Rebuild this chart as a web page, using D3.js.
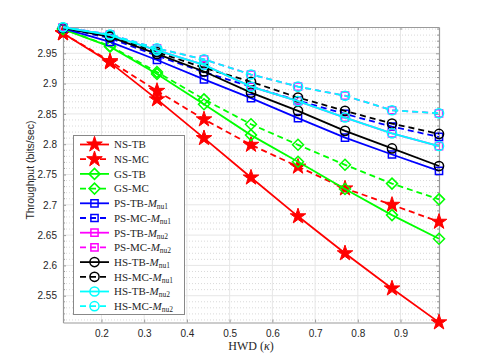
<!DOCTYPE html>
<html>
  <head>
    <script src="https://d3js.org/d3.v7.min.js"></script>
    <style>
      body { margin: 0; background: #fff; }
      text { fill: #262626; }
    </style>
  </head>
  <body>
    <svg id="chart"></svg>
    <script>
      // data
      const hwd = [0.11, 0.22, 0.33, 0.44, 0.55, 0.66, 0.77, 0.88, 0.99];
      const nsTB = [2.983, 2.935, 2.874, 2.810, 2.745, 2.681, 2.620, 2.562, 2.506];
      const nsMC = [2.983, 2.937, 2.888, 2.841, 2.799, 2.763, 2.727, 2.700, 2.672];
      const gsTB = [2.990, 2.961, 2.916, 2.866, 2.815, 2.771, 2.726, 2.683, 2.644];
      const gsMC = [2.990, 2.962, 2.919, 2.874, 2.833, 2.799, 2.766, 2.735, 2.709];
      const psTB1 = [2.991, 2.969, 2.939, 2.907, 2.876, 2.843, 2.811, 2.783, 2.756];
      const psMC1 = [2.992, 2.975, 2.946, 2.919, 2.895, 2.872, 2.850, 2.829, 2.812];
      const psTB2 = [2.993, 2.980, 2.955, 2.931, 2.895, 2.871, 2.844, 2.818, 2.797];
      const psMC2 = [2.993, 2.981, 2.958, 2.940, 2.915, 2.895, 2.880, 2.856, 2.851];
      const hsTB1 = [2.992, 2.977, 2.949, 2.920, 2.885, 2.855, 2.822, 2.793, 2.764];
      const hsMC1 = [2.992, 2.979, 2.952, 2.926, 2.903, 2.877, 2.855, 2.834, 2.817];
      const hsTB2 = [2.993, 2.980, 2.955, 2.931, 2.895, 2.871, 2.844, 2.818, 2.797];
      const hsMC2 = [2.993, 2.981, 2.958, 2.940, 2.915, 2.895, 2.880, 2.856, 2.851];

      const xTicks = [0.2, 0.3, 0.4, 0.5, 0.6, 0.7, 0.8, 0.9];
      const yTicks = [2.55, 2.6, 2.65, 2.7, 2.75, 2.8, 2.85, 2.9, 2.95];

      // name, sub (null = none), values, colour, dashed, marker
      const series = [
        ["NS-TB", null, nsTB, "#ff0000", false, "star"],
        ["NS-MC", null, nsMC, "#ff0000", true, "star"],
        ["GS-TB", null, gsTB, "#00ff00", false, "diamond"],
        ["GS-MC", null, gsMC, "#00ff00", true, "diamond"],
        ["PS-TB-", "nu1", psTB1, "#0000ff", false, "square"],
        ["PS-MC-", "nu1", psMC1, "#0000ff", true, "square"],
        ["PS-TB-", "nu2", psTB2, "#ff00ff", false, "square"],
        ["PS-MC-", "nu2", psMC2, "#ff00ff", true, "square"],
        ["HS-TB-", "nu1", hsTB1, "#000000", false, "circle"],
        ["HS-MC-", "nu1", hsMC1, "#000000", true, "circle"],
        ["HS-TB-", "nu2", hsTB2, "#00ffff", false, "circle"],
        ["HS-MC-", "nu2", hsMC2, "#00ffff", true, "circle"]
      ];

      const width = 485, height = 363;
      const svg = d3.select("#chart").attr("width", width).attr("height", height);

      const x = d3.scaleLinear([0.11, 0.99], [63, 439]);
      const y = d3.scaleLinear([2.5058, 2.9934], [322.5, 27]);

      const minorY = d3.range(2.51, 2.995, 0.01).filter(v => !yTicks.some(t => Math.abs(t - v) < 1e-6));

      // grid
      svg.append("g")
        .selectAll("line")
        .data(minorY)
        .join("line")
        .attr("x1", 63).attr("x2", 439)
        .attr("y1", d => y(d)).attr("y2", d => y(d))
        .attr("stroke", "#d9d9d9").attr("stroke-dasharray", "1,2");
      svg.append("g")
        .selectAll("line")
        .data(yTicks)
        .join("line")
        .attr("x1", 63).attr("x2", 439)
        .attr("y1", d => y(d)).attr("y2", d => y(d))
        .attr("stroke", "#e6e6e6");
      svg.append("g")
        .selectAll("line")
        .data(xTicks)
        .join("line")
        .attr("x1", d => x(d)).attr("x2", d => x(d))
        .attr("y1", 27).attr("y2", 322.5)
        .attr("stroke", "#e6e6e6");

      // axes
      const axisStyle = g => {
        g.select(".domain").attr("stroke", "#9a9a9a").attr("stroke-width", 1.2);
        g.selectAll(".tick line").attr("stroke", "#9a9a9a");
        g.selectAll("text").style("font", "10px 'Liberation Sans', sans-serif").attr("fill", "#262626");
      };
      svg.append("g")
        .attr("transform", "translate(0,322.5)")
        .call(d3.axisBottom(x).tickValues(xTicks).tickSize(-3).tickPadding(7).tickSizeOuter(0).tickFormat(d3.format(".1f")))
        .call(axisStyle);
      svg.append("g")
        .attr("transform", "translate(0,27)")
        .call(d3.axisTop(x).tickValues(xTicks).tickSize(-3).tickSizeOuter(0).tickFormat(""))
        .call(axisStyle);
      svg.append("g")
        .attr("transform", "translate(63,0)")
        .call(d3.axisLeft(y).tickValues(yTicks).tickSize(-3).tickPadding(6).tickSizeOuter(0).tickFormat(d => d3.format("")(+d.toFixed(2))))
        .call(axisStyle);
      svg.append("g")
        .attr("transform", "translate(439,0)")
        .call(d3.axisRight(y).tickValues(yTicks).tickSize(-3).tickSizeOuter(0).tickFormat(""))
        .call(axisStyle);
      // minor ticks on y
      [63, 439].forEach(px => {
        const dir = px === 63 ? 1 : -1;
        svg.append("g")
          .selectAll("line")
          .data(minorY)
          .join("line")
          .attr("x1", px).attr("x2", px + dir * 2)
          .attr("y1", d => y(d)).attr("y2", d => y(d))
          .attr("stroke", "#9a9a9a");
      });

      // axis labels
      svg.append("text")
        .attr("transform", "translate(34,170) rotate(-90)")
        .attr("text-anchor", "middle")
        .style("font", "10.5px 'Liberation Sans', sans-serif")
        .text("Throughput (bits/sec)");
      const xl = svg.append("text")
        .attr("x", 251).attr("y", 350)
        .attr("text-anchor", "middle")
        .style("font", "12px 'Liberation Serif', serif");
      xl.append("tspan").text("HWD (");
      xl.append("tspan").style("font-style", "italic").text("κ");
      xl.append("tspan").text(")");

      // markers
      const markerPath = {
        star: d3.symbol(d3.symbolStar, 75)(),
        square: d3.symbol(d3.symbolSquare, 52)(),
        circle: d3.symbol(d3.symbolCircle, 66)(),
        diamond: "M0,-5.5L5.5,0L0,5.5L-5.5,0Z"
      };

      function drawMarker(g, kind, colour, px, py) {
        g.append("path")
          .attr("d", markerPath[kind])
          .attr("transform", `translate(${px},${py})`)
          .attr("fill", kind === "star" ? colour : "none")
          .attr("stroke", colour)
          .attr("stroke-width", kind === "star" ? 1 : 1.5);
      }

      const line = d3.line().x((d, i) => x(hwd[i])).y(d => y(d));

      series.forEach(([name, sub, vals, colour, dashed, marker]) => {
        const g = svg.append("g");
        g.append("path")
          .attr("d", line(vals))
          .attr("fill", "none")
          .attr("stroke", colour)
          .attr("stroke-width", 1.8)
          .attr("stroke-dasharray", dashed ? "6,4" : null);
        vals.forEach((v, i) => drawMarker(g, marker, colour, x(hwd[i]), y(v)));
      });

      // legend
      const legend = svg.append("g");
      legend.append("rect")
        .attr("x", 73.5).attr("y", 135.5)
        .attr("width", 111).attr("height", 179)
        .attr("fill", "#fff").attr("stroke", "#888").attr("stroke-width", 1);
      series.forEach(([name, sub, vals, colour, dashed, marker], i) => {
        const ly = 144.5 + i * 14.7;
        const g = legend.append("g");
        g.append("line")
          .attr("x1", 80).attr("x2", 109)
          .attr("y1", ly).attr("y2", ly)
          .attr("stroke", colour).attr("stroke-width", 1.8)
          .attr("stroke-dasharray", dashed ? "6,4" : null);
        drawMarker(g, marker, colour, 94.5, ly);
        const t = g.append("text")
          .attr("x", 114).attr("y", ly + 3.8)
          .style("font", "11px 'Liberation Serif', serif");
        t.append("tspan").text(name);
        if (sub) {
          t.append("tspan").style("font-style", "italic").text("M");
          t.append("tspan").attr("dy", 2).style("font-size", "7.5px").text(sub);
        }
      });
    </script>
  </body>
</html>
